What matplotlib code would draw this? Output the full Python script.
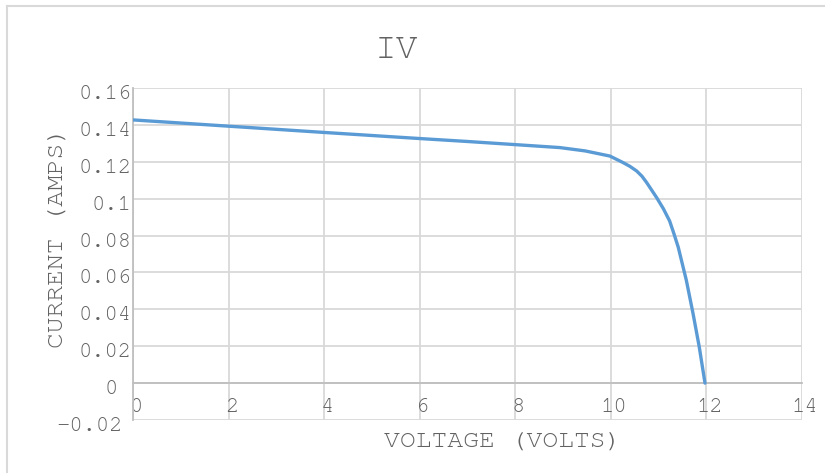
import matplotlib
matplotlib.use("Agg")
import matplotlib.pyplot as plt
from matplotlib.lines import Line2D
from matplotlib import transforms

# IV curve readings: voltage (V) and current (A)
voltage = [0, 2, 4, 6, 7, 8, 8.93, 9.46, 9.98, 10.26, 10.4, 10.54, 10.65,
           10.75, 10.85, 10.96, 11.1, 11.23, 11.32, 11.41, 11.58, 11.72,
           11.85, 11.97]
current = [0.1427, 0.1393, 0.1359, 0.1326, 0.1310, 0.1293, 0.1277, 0.1259,
           0.1231, 0.1195, 0.1175, 0.1150, 0.1122, 0.1087, 0.1048, 0.1005,
           0.0945, 0.0879, 0.0810, 0.0737, 0.0557, 0.0377, 0.0196, 0.0]

x_ticks = [0, 2, 4, 6, 8, 10, 12, 14]
y_ticks = [-0.02, 0, 0.02, 0.04, 0.06, 0.08, 0.1, 0.12, 0.14, 0.16]
y_labels = ["-0.02", "0", "0.02", "0.04", "0.06", "0.08", "0.1", "0.12", "0.14", "0.16"]

plt.rcParams['font.family'] = ['Courier New', 'Nimbus Mono PS', 'FreeMono',
                               'Liberation Mono', 'DejaVu Sans Mono']
txt_col = '#626262'
grid_col = '#d9d9d9'

fig = plt.figure(figsize=(8.25, 4.73), dpi=100)
ax = fig.add_axes([133 / 825, 1 - 420 / 473, 669 / 825, 332 / 473])

ax.plot(voltage, current, color='#5b9bd5', lw=2.4, solid_capstyle='round',
        solid_joinstyle='round', zorder=3)

ax.set_xlim(0, 14)
ax.set_ylim(-0.02, 0.16)
ax.set_xticks(x_ticks)
ax.set_yticks(y_ticks)
ax.set_yticklabels(y_labels)
ax.grid(True, color=grid_col, lw=1.3)
ax.set_axisbelow(True)

for s in ['top', 'right']:
    ax.spines[s].set_visible(False)
ax.spines['bottom'].set_position(('data', 0))
ax.spines['bottom'].set_color('#bfbfbf')
ax.spines['left'].set_color('#bfbfbf')
ax.spines['bottom'].set_linewidth(1.3)
ax.spines['left'].set_linewidth(1.3)
ax.spines['bottom'].set_zorder(2)

ax.tick_params(axis='both', length=0, labelsize=16, labelcolor=txt_col)
ax.tick_params(axis='x', pad=11)
ax.tick_params(axis='y', pad=1)

# shift the y labels a little below their gridlines, crowd the bottom two left
for lab, val in zip(ax.get_yticklabels(), y_ticks):
    dx = 0
    if val == 0:
        dx = -14
    elif val == -0.02:
        dx = -9
    lab.set_transform(lab.get_transform() +
                      transforms.ScaledTranslation(dx / 100, -4 / 100, fig.dpi_scale_trans))
for lab in ax.get_xticklabels():
    lab.set_transform(lab.get_transform() +
                      transforms.ScaledTranslation(3 / 100, 0, fig.dpi_scale_trans))

fig.text(397 / 825, 1 - 50 / 473, 'IV', ha='center', va='center',
         fontsize=26, color=txt_col)
fig.text(503 / 825, 1 - 441 / 473, 'VOLTAGE (VOLTS)', ha='center', va='center',
         fontsize=19, color=txt_col)
fig.text(57 / 825, 1 - 237 / 473, 'CURRENT (AMPS)', ha='center', va='center',
         rotation=90, fontsize=19, color=txt_col)

# chart frame
fig.add_artist(Line2D([7 / 825, 7 / 825], [0, 1 - 6 / 473], color=grid_col, lw=1.5))
fig.add_artist(Line2D([7 / 825, 1], [1 - 6 / 473, 1 - 6 / 473], color=grid_col, lw=1.5))

fig.savefig('out.png', dpi=100)
